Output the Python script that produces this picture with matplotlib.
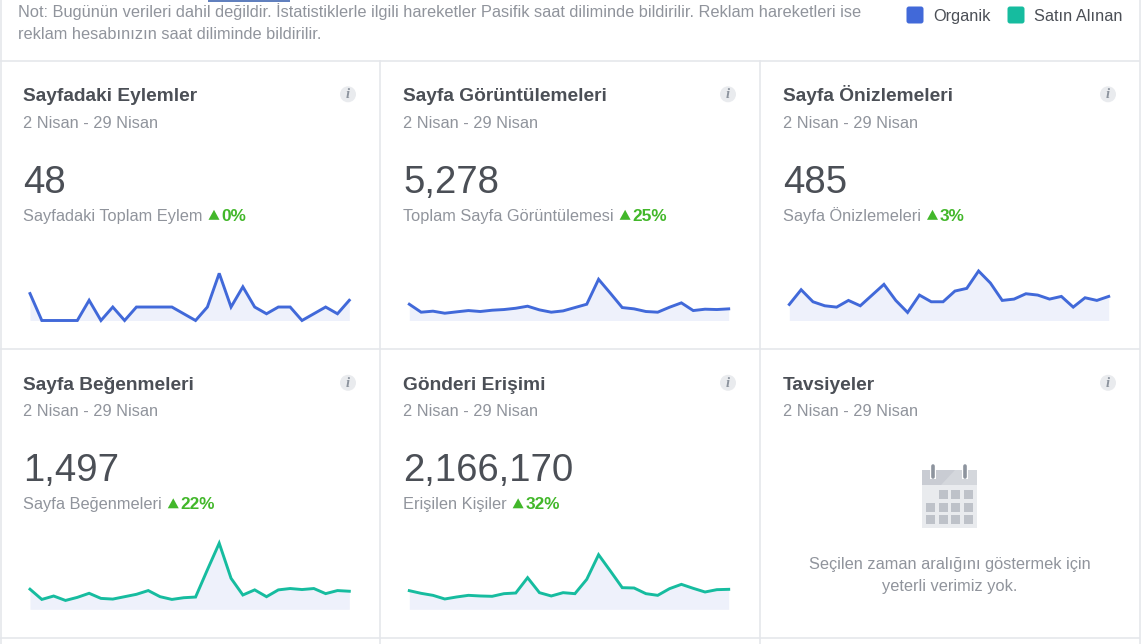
import matplotlib
matplotlib.use('Agg')
import matplotlib.pyplot as plt
import numpy as np
from matplotlib.patches import Rectangle, Circle, FancyBboxPatch, Polygon

W, H = 1142, 644
plt.rcParams['font.family'] = ['Liberation Sans', 'DejaVu Sans']

# ---------------- data ----------------
days = [f"{d} Nisan" for d in range(2, 30)]
actions = [4, 0, 0, 0, 0, 3, 0, 2, 0, 2, 2, 2, 2, 1, 0, 2, 7, 2, 5, 2, 1, 2, 2, 0, 1, 2, 1, 3]
page_views = [239, 122, 137, 107, 127, 146, 132, 151, 161, 180, 210, 156, 122, 141, 190, 239,
              605, 400, 190, 171, 132, 122, 195, 259, 146, 166, 161, 171]
page_previews = [12, 23, 14, 11, 10, 15, 11, 19, 27, 15, 6, 19, 14, 14, 22, 24, 37, 28, 15, 16,
                 20, 19, 16, 18, 10, 17, 15, 18]
page_likes = [59, 29, 39, 26, 35, 47, 32, 30, 37, 44, 55, 37, 29, 34, 36, 116, 194, 91, 42, 57,
              37, 57, 61, 58, 61, 46, 55, 53]
post_reach = [72600, 62200, 54400, 40200, 48000, 54400, 51900, 50600, 60900, 63500, 123200, 64800,
              51900, 64800, 60900, 116700, 212600, 149100, 84300, 83000, 60900, 54400, 80400,
              97200, 81700, 67400, 76500, 77800]

titles = ["Sayfadaki Eylemler", "Sayfa Görüntülemeleri", "Sayfa Önizlemeleri",
          "Sayfa Beğenmeleri", "Gönderi Erişimi", "Tavsiyeler"]
date_range = "2 Nisan - 29 Nisan"
totals = ["48", "5,278", "485", "1,497", "2,166,170"]
metric_labels = ["Sayfadaki Toplam Eylem", "Toplam Sayfa Görüntülemesi", "Sayfa Önizlemeleri",
                 "Sayfa Beğenmeleri", "Erişilen Kişiler"]
changes = ["0%", "25%", "3%", "22%", "32%"]
series = [actions, page_views, page_previews, page_likes, post_reach]
series_kind = ["Organik", "Organik", "Organik", "Satın Alınan", "Satın Alınan"]
legend_labels = ["Organik", "Satın Alınan"]
note_lines = ["Not: Bugünün verileri dahil değildir. İstatistiklerle ilgili hareketler Pasifik saat "
              "diliminde bildirilir. Reklam hareketleri ise",
              "reklam hesabınızın saat diliminde bildirilir."]
empty_msg = ["Seçilen zaman aralığını göstermek için", "yeterli verimiz yok."]

# ---------------- style ----------------
DARK = '#4b4f56'
GRAY = '#90949c'
GREEN = '#42b72a'
LINE = '#e5e7eb'
FILL = '#eef1fb'
kind_color = {"Organik": '#4169d9', "Satın Alınan": '#16bc9f'}
headroom = [1.389, 1.59, 1.323, 1.20, 1.453]
BODY = 11.8

fig = plt.figure(figsize=(W / 100, H / 100), dpi=100)
fig.patch.set_facecolor('white')
bg = fig.add_axes([0, 0, 1, 1])
bg.set_xlim(0, W)
bg.set_ylim(H, 0)
bg.axis('off')

# borders / separators
def hline(y, x0, x1):
    bg.plot([x0, x1], [y, y], color=LINE, lw=1.2, solid_capstyle='butt')

def vline(x, y0, y1):
    bg.plot([x, x], [y0, y1], color=LINE, lw=1.2, solid_capstyle='butt')

hline(60.5, 0, 1140)
hline(348.5, 0, 1140)
hline(637.5, 0, 1140)
vline(0.8, 0, 644)
vline(379.5, 60, 644)
vline(759.5, 60, 644)
vline(1139.5, 0, 644)
# tab indicator at top
bg.plot([208, 290], [0.5, 0.5], color='#4267b2', lw=1.2, solid_capstyle='butt')

# header note
bg.text(18, 16.7, note_lines[0], fontsize=BODY, color=GRAY, va='baseline', ha='left')
bg.text(18, 38.5, note_lines[1], fontsize=BODY, color=GRAY, va='baseline', ha='left')

# legend
leg_x = [906, 1007]
for lx, lab in zip(leg_x, legend_labels):
    bg.add_patch(FancyBboxPatch((lx + 0.5, 6.5), 17, 17, boxstyle='round,pad=0,rounding_size=2.5',
                                facecolor=kind_color[lab], edgecolor='none'))
    bg.text(lx + 27, 20.5, lab, fontsize=BODY, color=DARK, va='baseline', ha='left')

renderer = fig.canvas.get_renderer()

col_x = [0, 380, 760]
row_y = [0, 288.5]
spark_x = [(30, 349.3), (409.3, 728.7), (789.3, 1108.7)]
spark_y = [(255, 320.5), (530, 609.3)]

def info_icon(cx, cy):
    bg.add_patch(Circle((cx, cy), 8, facecolor='#e9ebee', edgecolor='none'))
    bg.text(cx, cy + 0.5, 'i', fontsize=10.5, color='#8d949e', ha='center', va='center',
            family='Liberation Serif', style='italic', fontweight='bold')

for i, title in enumerate(titles):
    r, c = divmod(i, 3)
    x0 = col_x[c] + 23
    dy = row_y[r]
    bg.text(x0, 101 + dy, title, fontsize=13.8, fontweight='bold', color=DARK, va='baseline')
    bg.text(x0, 127.5 + dy, date_range, fontsize=BODY, color=GRAY, va='baseline')
    info_icon(col_x[c] + 348, 94.3 + dy)
    if i >= len(totals):
        continue
    bg.text(x0, 192.7 + dy, totals[i], fontsize=27.6, color=DARK, va='baseline')
    t = bg.text(x0, 220.8 + dy, metric_labels[i], fontsize=BODY, color=GRAY, va='baseline')
    bb = t.get_window_extent(renderer)
    tx = bb.x1 + 6
    base = 219.8 + dy
    bg.add_patch(Polygon([[tx, base], [tx + 11, base], [tx + 5.5, base - 10]], closed=True,
                         facecolor=GREEN, edgecolor='none'))
    bg.text(tx + 13, 220.8 + dy, changes[i], fontsize=12.4, fontweight='bold', color=GREEN,
            va='baseline')

    # sparkline
    sx0, sx1 = spark_x[c]
    sy0, sy1 = spark_y[r]
    ax = fig.add_axes([sx0 / W, 1 - sy1 / H, (sx1 - sx0) / W, (sy1 - sy0) / H])
    vals = np.array(series[i], dtype=float)
    xs = np.arange(len(vals))
    ax.fill_between(xs, 0, vals, color=FILL, lw=0)
    ax.plot(xs, vals, color=kind_color[series_kind[i]], lw=2.1, solid_joinstyle='miter',
            clip_on=False)
    ax.set_xlim(0, len(vals) - 1)
    ax.set_ylim(0, vals.max() * headroom[i])
    ax.axis('off')
    ax.patch.set_alpha(0)

# calendar icon for empty Tavsiyeler panel
bg.add_patch(Rectangle((922, 485), 55, 43, facecolor='#e9ebee', edgecolor='none'))
bg.add_patch(Rectangle((922, 470), 55, 15, facecolor='#c9ccd3', edgecolor='none'))
bg.add_patch(Polygon([[941, 485], [955, 470], [977, 470], [977, 485]], closed=True,
                     facecolor='#d4d7dc', edgecolor='none'))
for rx in (933, 965):
    bg.add_patch(Rectangle((rx - 3, 468), 6, 11, facecolor='white', edgecolor='none'))
    bg.plot([rx, rx], [465.5, 476.5], color='#8d949e', lw=2.6, solid_capstyle='round')
sq_x = [926, 938.7, 951.3, 964]
sq_y = [490, 502.5, 515]
for ri, yy in enumerate(sq_y):
    for ci, xx in enumerate(sq_x):
        if ri == 0 and ci == 0:
            continue
        bg.add_patch(Rectangle((xx, yy), 9, 9, facecolor='#bec2c9', edgecolor='none'))

bg.text(950, 569, empty_msg[0], fontsize=BODY, color=GRAY, ha='center', va='baseline')
bg.text(950, 591, empty_msg[1], fontsize=BODY, color=GRAY, ha='center', va='baseline')

fig.savefig('out.png', dpi=100)
